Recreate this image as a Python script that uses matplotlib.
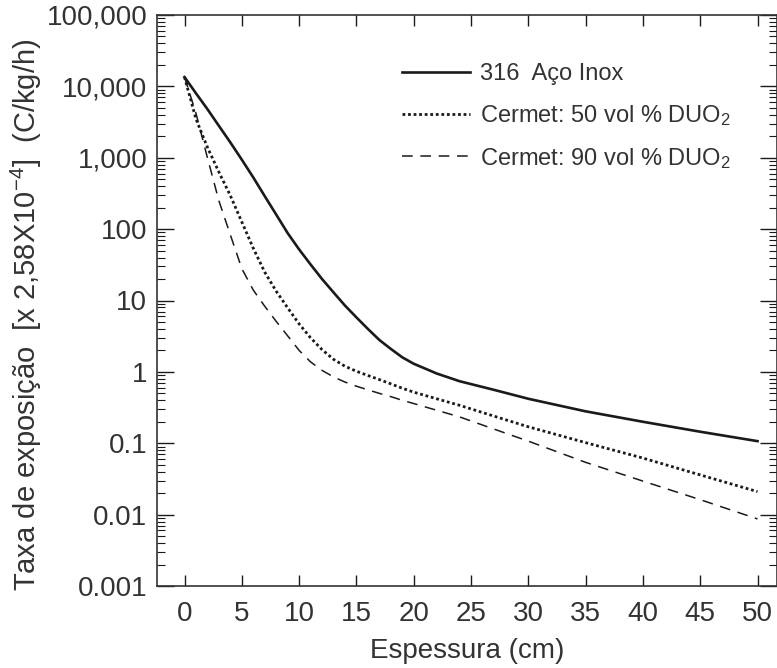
import matplotlib
matplotlib.use("Agg")
import matplotlib.pyplot as plt
from matplotlib.ticker import LogLocator, FuncFormatter, NullFormatter

plt.rcParams['font.family'] = ['Liberation Sans', 'DejaVu Sans']
plt.rcParams['mathtext.fontset'] = 'custom'
plt.rcParams['mathtext.rm'] = 'Liberation Sans'
plt.rcParams['mathtext.it'] = 'Liberation Sans'

# Data
thickness = [0, 1, 2, 3, 4, 5, 6, 7, 8, 9, 10, 11, 12, 13, 14, 15, 16, 17, 18, 19, 20,
             22, 24, 27, 30, 35, 40, 45, 50]
steel_316 = [13500, 8000, 4800, 2800, 1640, 940, 530, 290, 160, 88, 52, 32, 20, 13, 8.5,
             5.8, 4.0, 2.8, 2.1, 1.6, 1.3, 0.95, 0.74, 0.56, 0.42, 0.28, 0.20, 0.145, 0.107]
cermet_50 = [13500, 3500, 1400, 630, 295, 126, 54, 25, 13.5, 7.9, 4.7, 3.0, 2.05, 1.5, 1.2,
             1.02, 0.89, 0.78, 0.68, 0.59, 0.52, 0.42, 0.34, 0.24, 0.17, 0.102, 0.062, 0.036, 0.021]
cermet_90 = [13500, 4200, 1000, 250, 83, 28, 14, 8.3, 5.1, 3.2, 2.0, 1.38, 1.05, 0.85, 0.72,
             0.63, 0.56, 0.50, 0.45, 0.40, 0.36, 0.29, 0.234, 0.158, 0.107, 0.054, 0.0295, 0.0162, 0.0087]
labels = ['316  Aço Inox', r'Cermet: 50 vol % DUO$_2$', r'Cermet: 90 vol % DUO$_2$']
x_ticks = [0, 5, 10, 15, 20, 25, 30, 35, 40, 45, 50]

fig = plt.figure(figsize=(7.77, 6.68), dpi=100)
ax = fig.add_axes([157/777, 1-586/668, 1-157/777, (586-15)/668])

c = '#1a1a1a'
ax.plot(thickness, steel_316, color=c, lw=1.9, ls='-', label=labels[0])
ax.plot(thickness, cermet_50, color=c, lw=2.0, ls=(0, (1, 1)), label=labels[1])
ax.plot(thickness, cermet_90, color=c, lw=1.1, ls=(0, (7, 5)), label=labels[2])

ax.set_yscale('log')
ax.set_ylim(1e-3, 1e5)
ax.set_xlim(-2.4, 51.7)
ax.set_xticks(x_ticks)
ax.yaxis.set_major_locator(LogLocator(base=10, numticks=20))
ax.yaxis.set_minor_locator(LogLocator(base=10, subs=range(2, 10), numticks=20))
ax.yaxis.set_minor_formatter(NullFormatter())

def fmt(v, pos):
    if v >= 1:
        return f"{int(round(v)):,}"
    return f"{v:g}"
ax.yaxis.set_major_formatter(FuncFormatter(fmt))

tc = '#333333'
ax.tick_params(axis='y', which='major', direction='in', length=12, width=1, left=True, right=True,
               labelsize=20, pad=7, colors=c)
ax.tick_params(axis='y', which='minor', direction='in', length=6, width=0.8, left=True, right=True, colors=c)
ax.tick_params(axis='x', which='major', direction='in', length=8, width=1, top=True, bottom=True,
               labelsize=20, pad=11, colors=c)
for lab in ax.get_yticklabels() + ax.get_xticklabels():
    lab.set_color(tc)
for s in ax.spines.values():
    s.set_color('#333333')
    s.set_linewidth(1.2)

ax.set_xlabel('Espessura (cm)', fontsize=20, color=tc, labelpad=8)
ax.set_ylabel(r'Taxa de exposição  [x 2,58X10$^{-4}$]  (C/kg/h)', fontsize=21, color=tc)
ax.yaxis.set_label_coords(-0.183, 0.475)

leg = ax.legend(loc='upper left', bbox_to_anchor=(0.395, 0.916), frameon=False, fontsize=17,
                handlelength=2.9, handletextpad=0.42, labelspacing=0.76, borderaxespad=0, borderpad=0)
for t in leg.get_texts():
    t.set_color(tc)

fig.savefig('out.png', dpi=100)
